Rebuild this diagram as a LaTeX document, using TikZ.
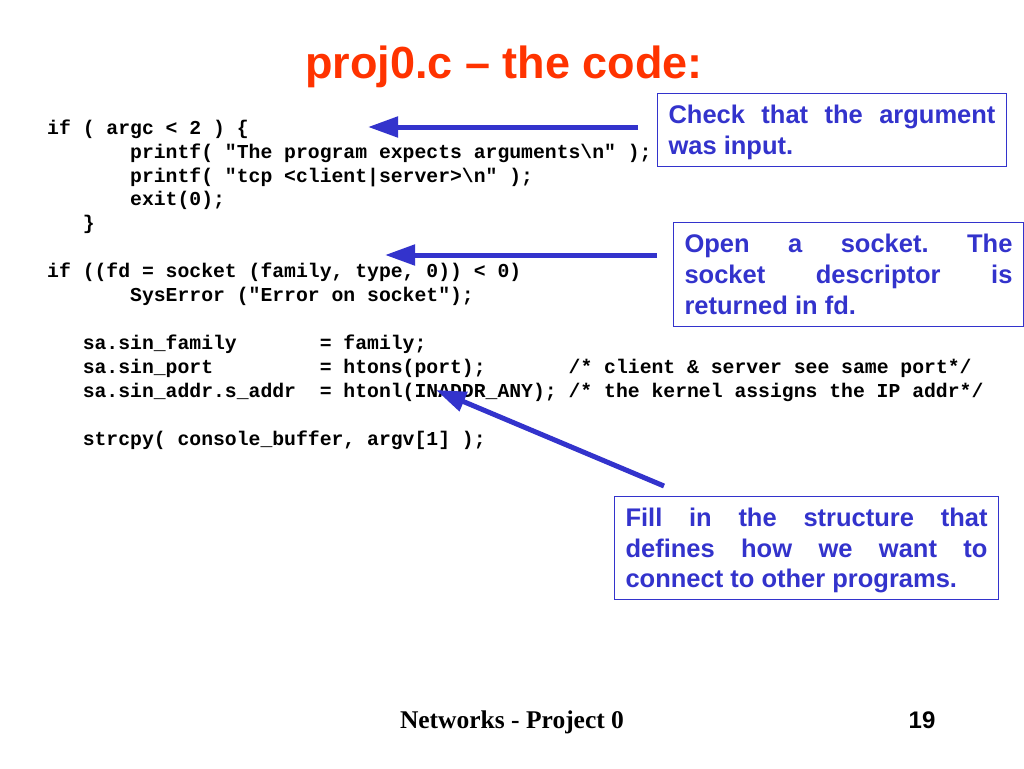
\documentclass[tikz,border=0pt]{standalone}
\usepackage{fontspec}
\setmainfont{Liberation Sans}
\setmonofont{Liberation Mono}
\newfontfamily\footserif{Liberation Serif}
\usetikzlibrary{arrows.meta}
\definecolor{titlered}{HTML}{FF3300}
\definecolor{noteblue}{HTML}{3333CC}
\begin{document}
\begin{tikzpicture}[x=1pt,y=-1pt,
  code/.style={anchor=base west, inner sep=0pt, font=\fontsize{19.75}{24}\selectfont\ttfamily\bfseries},
  note/.style={draw=noteblue, line width=1pt, fill=white, anchor=north west, inner xsep=11pt, inner ysep=7pt, align=justify, text=noteblue, font=\fontsize{25.5}{31}\selectfont\bfseries},
  pointer/.style={draw=noteblue, line width=5pt, -{Triangle[length=30pt,width=20pt]}}]
\useasboundingbox[fill=white] (0,0) rectangle (1024,768);

% title
\node[anchor=base, inner sep=0pt, text=titlered, font=\fontsize{45}{54}\selectfont\bfseries] (title) at (504,78) {proj0.c \textendash{} the code:};

% code
\node[code] (c1)  at (47,134) {if ( argc < 2 ) \{};
\node[code] (c2)  at (47,158) {~~~~~~~printf( "The program expects arguments\textbackslash n" );};
\node[code] (c3)  at (47,182) {~~~~~~~printf( "tcp <client|server>\textbackslash n" );};
\node[code] (c4)  at (47,205) {~~~~~~~exit(0);};
\node[code] (c5)  at (47,229) {~~~\}};
\node[code] (c6)  at (47,277) {if ((fd = socket (family, type, 0)) < 0)};
\node[code] (c7)  at (47,301) {~~~~~~~SysError ("Error on socket");};
\node[code] (c8)  at (47,349) {~~~sa.sin\_family~~~~~~~= family;};
\node[code] (c9)  at (47,373) {~~~sa.sin\_port~~~~~~~~~= htons(port);~~~~~~~/* client \& server see same port*/};
\node[code] (c10) at (47,397) {~~~sa.sin\_addr.s\_addr~~= htonl(INADDR\_ANY); /* the kernel assigns the IP addr*/};
\node[code] (c11) at (47,445) {~~~strcpy( console\_buffer, argv[1] );};

% notes
\node[note, text width=327pt] (n1) at (657,93)
  {\rule{0pt}{23pt}Check\hfill that\hfill the\hfill argument\\ was input.\rule[-5pt]{0pt}{5pt}};
\node[note, text width=328pt] (n2) at (673,222)
  {\rule{0pt}{23pt}Open\hfill a\hfill socket.\hfill The\\ socket\hfill descriptor\hfill is\\ returned in fd.\rule[-5pt]{0pt}{5pt}};
\node[note, text width=362pt, font=\fontsize{25.5}{30.5}\selectfont\bfseries] (n3) at (614,496)
  {\rule{0pt}{23pt}Fill\hfill in\hfill the\hfill structure\hfill that\\ defines\hfill how\hfill we\hfill want\hfill to\\ connect to other programs.\rule[-5pt]{0pt}{5pt}};

% pointers
\coordinate (p1s) at (638,127);
\coordinate (p1e) at (368,127);
\coordinate (p2s) at (657,255);
\coordinate (p2e) at (385,255);
\coordinate (p3s) at (664,486);
\coordinate (p3e) at (436,390);
\draw[pointer] (p1s) -- (p1e);
\draw[pointer] (p2s) -- (p2e);
\draw[pointer] (p3s) -- (p3e);

% footer
\node[anchor=base, inner sep=0pt, font=\fontsize{25.5}{30}\selectfont\footserif\bfseries] (foot) at (512,728) {Networks - Project 0};
\node[anchor=base, inner sep=0pt, font=\fontsize{24}{29}\selectfont\bfseries] (page) at (922,728) {19};
\end{tikzpicture}
\end{document}
